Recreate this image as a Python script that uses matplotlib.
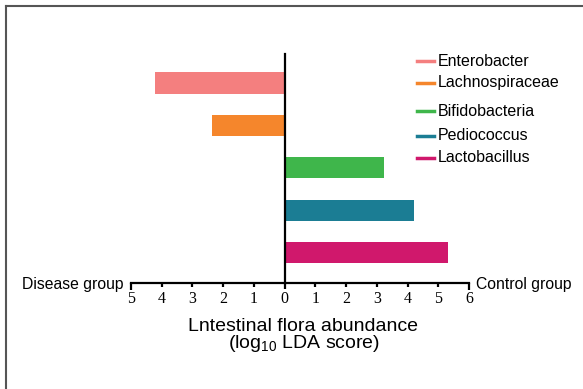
import matplotlib
matplotlib.use("Agg")
import matplotlib.pyplot as plt
from matplotlib.lines import Line2D

categories = ["Enterobacter", "Lachnospiraceae", "Bifidobacteria", "Pediococcus", "Lactobacillus"]
lda_scores = [-4.21, -2.35, 3.22, 4.22, 5.33]
colors = ["#F47F7F", "#F5862C", "#3FB64B", "#1B7D94", "#D0186C"]
tick_values = [-5, -4, -3, -2, -1, 0, 1, 2, 3, 4, 5, 6]
tick_labels = ["5", "4", "3", "2", "1", "0", "1", "2", "3", "4", "5", "6"]
left_group = "Disease group"
right_group = "Control group"
xlabel_line1 = "Lntestinal flora abundance"
xlabel_line2 = "(log$_{10}$ LDA score)"

plt.rcParams["font.family"] = ["Liberation Sans", "DejaVu Sans"]
plt.rcParams["mathtext.default"] = "regular"

W, H = 583, 389
fig = plt.figure(figsize=(W / 100, H / 100), dpi=100)

def fx(px):
    return px / W

def fy(py):
    return 1 - py / H

ax = fig.add_axes([fx(131), fy(283), fx(469) - fx(131), fy(54) - fy(283)])

ypos = list(range(len(categories)))
ax.barh(ypos, lda_scores, height=0.5, color=colors, edgecolor="none", zorder=2)

ax.set_xlim(-5, 6)
ax.set_ylim(4.72, -0.684)

for s in ["top", "right"]:
    ax.spines[s].set_visible(False)
ax.spines["left"].set_position(("data", 0))
ax.spines["left"].set_linewidth(1.6)
ax.spines["left"].set_zorder(3)
ax.spines["bottom"].set_linewidth(1.6)
ax.set_yticks([])

ax.set_xticks(tick_values)
ax.set_xticklabels(tick_labels, family=["Liberation Serif"], fontsize=11.5)
ax.tick_params(axis="x", direction="out", length=3, width=1.6, pad=2.5)
ticks = ax.xaxis.get_major_ticks()
for t in (ticks[0], ticks[-1]):
    t.tick1line.set_markersize(5)
ticks[5].tick1line.set_markersize(4)

fig.text(fx(124), fy(289), left_group, ha="right", va="baseline", fontsize=11.3)
fig.text(fx(476), fy(289), right_group, ha="left", va="baseline", fontsize=11.3)
fig.text(fx(303.5), fy(331), xlabel_line1, ha="center", va="baseline", fontsize=14)
fig.text(fx(304), fy(348), xlabel_line2, ha="center", va="baseline", fontsize=14)

# legend
legend_y = [61, 83, 111, 136, 158]
for name, c, py in zip(categories, colors, legend_y):
    fig.add_artist(Line2D([fx(417), fx(434)], [fy(py), fy(py)], color=c, lw=2.5,
                          transform=fig.transFigure))
    fig.text(fx(438), fy(py), name, ha="left", va="center", fontsize=11.5)

# frame border (top and left)
fig.add_artist(Line2D([fx(6), fx(583)], [fy(6), fy(6)], color="#555555", lw=1.5,
                      transform=fig.transFigure))
fig.add_artist(Line2D([fx(6), fx(6)], [fy(6), fy(389)], color="#555555", lw=1.5,
                      transform=fig.transFigure))

fig.savefig("out.png", dpi=100)
